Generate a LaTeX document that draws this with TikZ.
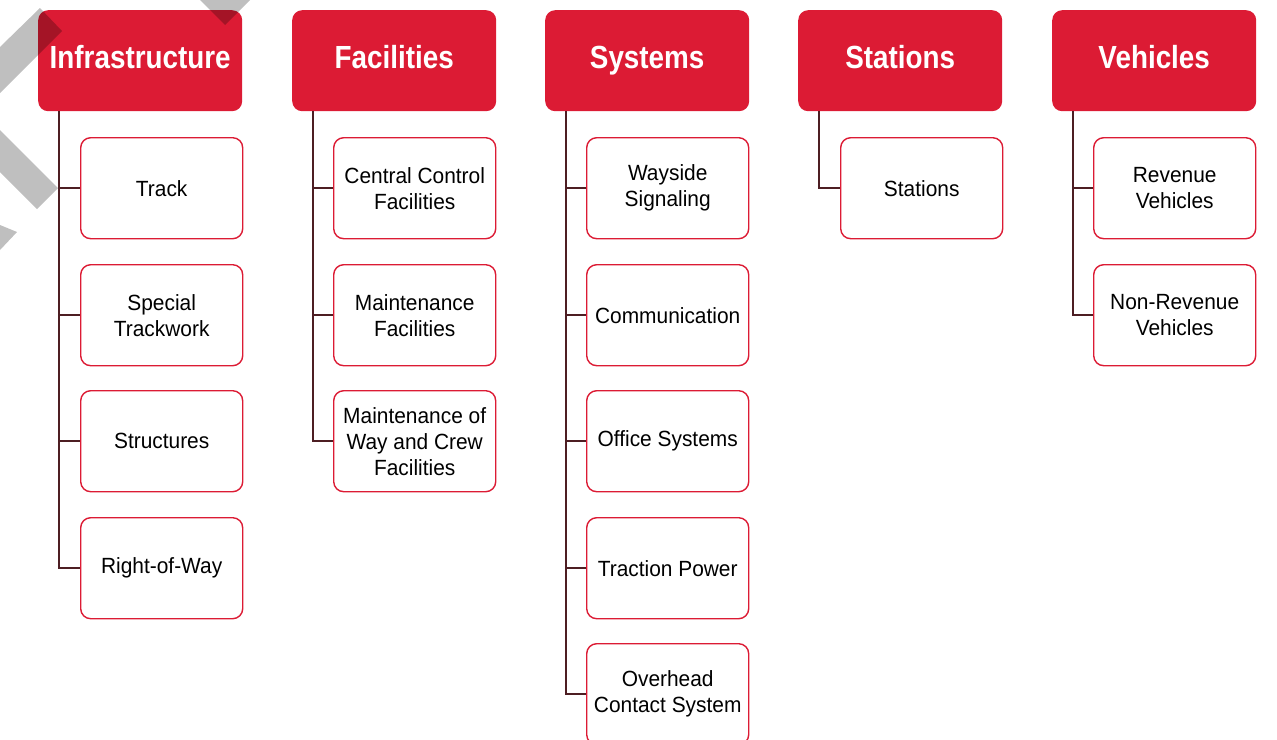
\documentclass[tikz,border=0pt]{standalone}
\usepackage{fontspec}
\setmainfont{Liberation Sans}[FakeStretch=0.95]
\newfontfamily\headfont{Liberation Sans}[FakeStretch=0.87]
\definecolor{rred}{RGB}{220,27,52}
\definecolor{conn}{RGB}{77,30,35}
\begin{document}
\begin{tikzpicture}[x=1pt,y=-1pt,
  head/.style={fill=rred, rounded corners=10pt, minimum width=204pt, minimum height=101pt,
    inner sep=0pt, text=white, text height=23pt, text depth=8pt,
    font=\headfont\bfseries\fontsize{32}{36}\selectfont, anchor=north west},
  item/.style={draw=rred, line width=1.4pt, fill=white, rounded corners=10pt,
    minimum width=162pt, minimum height=101pt, inner sep=0pt, align=center,
    font=\fontsize{22}{26}\selectfont, anchor=north west},
  link/.style={draw=conn, line width=1.8pt},
  shadeband/.style={fill=black, opacity=0.25}]
\useasboundingbox (0,0) rectangle (1277,739);
\clip (0,0) rectangle (1277,739);

% headers
\node[head] (h1) at (38,10) {Infrastructure};
\node[head] (h2) at (292,10) {Facilities};
\node[head] (h3) at (545,10) {Systems};
\node[head] (h4) at (798,10) {Stations};
\node[head] (h5) at (1052,10) {Vehicles};

% Infrastructure
\node[item] (c11) at (80,137) {Track};
\node[item] (c12) at (80,264) {Special\\Trackwork};
\node[item] (c13) at (80,390) {Structures};
\node[item] (c14) at (80,517) {Right-of-Way};
% Facilities
\node[item] (c21) at (333,137) {Central Control\\Facilities};
\node[item] (c22) at (333,264) {Maintenance\\Facilities};
\node[item] (c23) at (333,390) {Maintenance of\\Way and Crew\\Facilities};
% Systems
\node[item] (c31) at (586,137) {Wayside\\Signaling};
\node[item] (c32) at (586,264) {Communication};
\node[item] (c33) at (586,390) {Office Systems};
\node[item] (c34) at (586,517) {Traction Power};
\node[item] (c35) at (586,643) {Overhead\\Contact System};
% Stations
\node[item] (c41) at (840,137) {Stations};
% Vehicles
\node[item] (c51) at (1093,137) {Revenue\\Vehicles};
\node[item] (c52) at (1093,264) {Non-Revenue\\Vehicles};

% connectors
\foreach \h/\c in {h1/c11,h1/c12,h1/c13,h1/c14,h2/c21,h2/c22,h2/c23,
                   h3/c31,h3/c32,h3/c33,h3/c34,h3/c35,h4/c41,h5/c51,h5/c52}
  \draw[link] (\h.south west) ++(21,0) |- (\c.west);

% grey diagonal bands
\fill[shadeband] (0,47) -- (40,8) -- (62,31) -- (0,93) -- cycle;
\fill[shadeband] (0,130) -- (58,188) -- (37,209) -- (0,172) -- cycle;
\fill[shadeband] (0,225) -- (17,232) -- (0,250) -- cycle;
\fill[shadeband] (200,0) -- (225,25) -- (250,0) -- cycle;
\end{tikzpicture}
\end{document}
